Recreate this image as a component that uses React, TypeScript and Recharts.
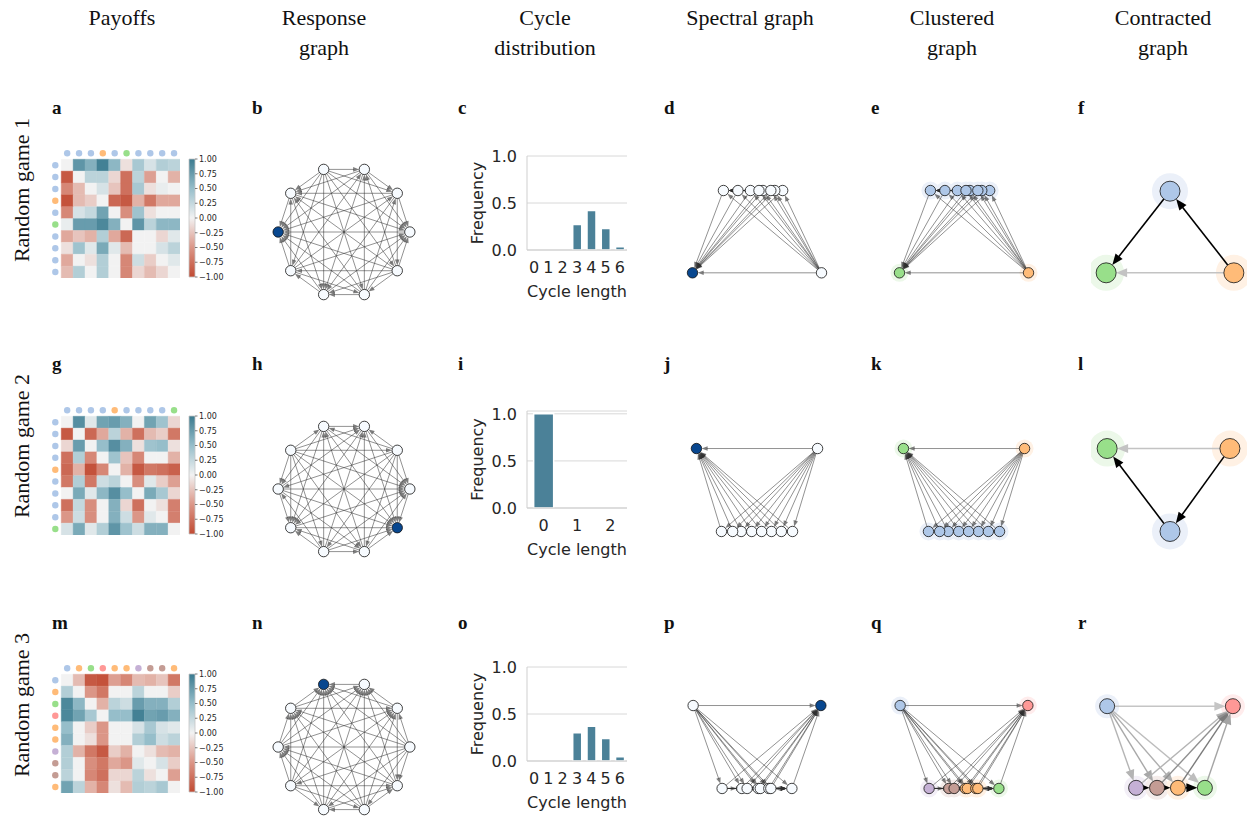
import React from 'react';
import {
  ScatterChart,
  Scatter,
  BarChart,
  Bar,
  ComposedChart,
  XAxis,
  YAxis,
  CartesianGrid,
  ReferenceLine,
  ReferenceArea,
} from 'recharts';

const SERIF = '"Liberation Serif", "DejaVu Serif", serif';
const SANS = '"DejaVu Sans", sans-serif';
const INK = '#262626';

// payoff matrices (rows top->bottom)
const payoff1 = [
  [0, 0.8, 0.6, 0.95, 0.55, -0.1, 0.4, 0.15, 0.35, 0.3],
  [-0.9, 0, 0.3, 0.3, -0.15, -0.75, 0.3, -0.45, 0, -0.35],
  [-0.6, -0.3, 0, 0.15, -0.25, -0.75, 0.4, -0.1, 0.05, 0],
  [-0.95, -0.3, -0.2, 0, -0.8, -0.9, -0.35, -0.7, -0.4, -0.4],
  [-0.6, 0.15, 0.25, 0.7, 0, -0.55, 0.45, -0.1, 0, 0],
  [0.05, 0.75, 0.75, 0.9, 0.6, 0, 0.8, 0.3, 0.55, 0.55],
  [-0.4, -0.25, -0.35, 0.35, -0.4, -0.8, 0, 0, -0.15, 0.1],
  [-0.1, 0.45, 0.1, 0.65, 0.1, -0.3, 0, 0, 0.15, 0.3],
  [-0.4, 0, -0.1, 0.35, 0, -0.6, 0.2, -0.2, 0, 0.1],
  [-0.3, 0.35, 0, 0.35, 0, -0.6, -0.15, -0.3, -0.15, 0],
];
const payoff2 = [
  [0, 0.85, 0.1, 0.7, 0.75, 0.6, 0, 0.7, 0.45, -0.15],
  [-0.9, 0, -0.8, -0.4, 0.3, -0.35, -0.75, -0.3, -0.2, -0.7],
  [-0.15, 0.75, 0, 0.5, 0.85, 0.6, -0.1, 0.45, 0.5, -0.1],
  [-0.75, 0.35, -0.6, 0, 0.45, -0.25, -0.6, 0, 0, -0.35],
  [-0.8, -0.35, -0.95, -0.6, 0, -0.35, -0.9, -0.7, -0.75, -0.85],
  [-0.7, 0.35, -0.7, 0.2, 0.3, 0, -0.55, 0.1, -0.2, -0.45],
  [0, 0.65, 0.1, 0.55, 0.85, 0.5, 0, 0.65, 0.4, -0.15],
  [-0.75, 0.25, -0.55, 0, 0.6, -0.15, -0.75, 0, -0.1, -0.65],
  [-0.5, 0.2, -0.55, 0, 0.6, 0.2, -0.5, 0.1, 0, -0.65],
  [0.15, 0.65, 0.1, 0.35, 0.8, 0.45, 0.2, 0.6, 0.6, 0],
];
const payoff3 = [
  [0, -0.3, -0.9, -0.95, -0.45, -0.6, -0.3, -0.35, -0.25, -0.7],
  [0.35, 0, -0.5, -0.7, 0, 0, 0.3, 0, 0, -0.2],
  [0.9, 0.55, 0, -0.35, 0.3, 0.2, 0.75, 0.6, 0.6, 0.35],
  [0.9, 0.7, 0.4, 0, 0.5, 0.5, 0.95, 0.7, 0.75, 0.6],
  [0.5, 0, -0.2, -0.5, 0, 0, 0.15, 0.4, 0.15, 0.1],
  [0.6, 0, -0.1, -0.5, 0, 0, 0.35, 0.5, 0.2, 0.3],
  [0.35, -0.35, -0.7, -0.9, -0.2, -0.35, 0, -0.1, -0.3, -0.35],
  [0.35, 0, -0.55, -0.7, -0.4, -0.5, 0.1, 0, 0.15, -0.2],
  [0.3, 0, -0.6, -0.75, -0.15, -0.15, 0.3, -0.1, 0, -0.45],
  [0.7, 0.3, -0.35, -0.6, -0.1, -0.3, 0.35, 0.3, 0.4, 0],
];

// cluster of each strategy
const cluster1 = ['blue', 'blue', 'blue', 'orange', 'blue', 'green', 'blue', 'blue', 'blue', 'blue'];
const cluster2 = ['blue', 'blue', 'blue', 'blue', 'orange', 'blue', 'blue', 'blue', 'blue', 'green'];
const cluster3 = ['blue', 'orange', 'green', 'red', 'orange', 'orange', 'purple', 'brown', 'brown', 'orange'];

// cycle length distributions
const cycleLen1 = ['0', '1', '2', '3', '4', '5', '6'];
const cycleFreq1 = [0, 0, 0, 0.27, 0.42, 0.23, 0.035];
const cycleLen2 = ['0', '1', '2'];
const cycleFreq2 = [1.0, 0, 0];
const cycleLen3 = ['0', '1', '2', '3', '4', '5', '6'];
const cycleFreq3 = [0, 0, 0, 0.3, 0.37, 0.24, 0.045];

const colorbarTicks = [-1, -0.75, -0.5, -0.25, 0, 0.25, 0.5, 0.75, 1];
const freqTicks = [0, 0.5, 1];

// circular layout (node k)
const ring = [
  [1, 0], [0.809, 0.588], [0.309, 0.951], [-0.309, 0.951], [-0.809, 0.588],
  [-1, 0], [-0.809, -0.588], [-0.309, -0.951], [0.309, -0.951], [0.809, -0.588],
];

// spectral layouts (node k)
const spectral1 = [
  [-0.51, 0.63], [0.39, 0.63], [-0.1, 0.63], [0.98, -0.62], [0.09, 0.63],
  [-0.98, -0.62], [0.27, 0.63], [-0.29, 0.63], [0.21, 0.63], [0.03, 0.63],
];
const spectral2 = [
  [-0.54, -0.63], [0.54, -0.63], [-0.24, -0.63], [-0.08, -0.63], [0.92, 0.63],
  [0.22, -0.63], [-0.37, -0.63], [0.37, -0.63], [0.07, -0.63], [-0.92, 0.63],
];
const spectral3 = [
  [-0.97, 0.63], [0.02, -0.63], [0.53, -0.63], [0.97, 0.63], [0.05, -0.63],
  [0.18, -0.63], [-0.53, -0.63], [-0.23, -0.63], [-0.15, -0.63], [0.21, -0.63],
];

// contracted graphs
const contracted1 = [
  { c: 'blue', x: 0, y: 0.62 },
  { c: 'green', x: -0.97, y: -0.62 },
  { c: 'orange', x: 0.97, y: -0.62 },
];
const contractedEdges1 = [
  ['orange', 'blue', 1],
  ['blue', 'green', 1],
  ['orange', 'green', 0.05],
];
const contracted2 = [
  { c: 'green', x: -0.955, y: 0.63 },
  { c: 'orange', x: 0.91, y: 0.63 },
  { c: 'blue', x: 0, y: -0.63 },
];
const contractedEdges2 = [
  ['orange', 'blue', 1],
  ['blue', 'green', 1],
  ['orange', 'green', 0.05],
];
const contracted3 = [
  { c: 'blue', x: -0.955, y: 0.62 },
  { c: 'red', x: 0.955, y: 0.62 },
  { c: 'purple', x: -0.515, y: -0.62 },
  { c: 'brown', x: -0.197, y: -0.62 },
  { c: 'orange', x: 0.121, y: -0.62 },
  { c: 'green', x: 0.53, y: -0.62 },
];
const contractedEdges3 = [
  ['blue', 'red', 0.04],
  ['blue', 'purple', 0.12],
  ['blue', 'brown', 0.18],
  ['blue', 'orange', 0.15],
  ['blue', 'green', 0.08],
  ['purple', 'red', 0.12],
  ['brown', 'red', 0.3],
  ['orange', 'red', 0.4],
  ['green', 'red', 0.2],
  ['purple', 'brown', 1],
  ['brown', 'orange', 1],
  ['orange', 'green', 1],
];

const palette: Record<string, string> = {
  blue: '#aec7e8', orange: '#ffbb78', green: '#98df8a',
  red: '#ff9896', purple: '#c5b0d5', brown: '#c49c94',
};
const haloPalette: Record<string, string> = {
  blue: '#ebf0f9', orange: '#fff1e4', green: '#ecf8e9',
  red: '#ffecec', purple: '#f3eff7', brown: '#f4ecea',
};

const cmapStops: [number, number[]][] = [
  [-1, [193, 74, 50]],
  [-0.5, [219, 150, 135]],
  [0, [242, 242, 242]],
  [0.5, [150, 190, 202]],
  [1, [58, 122, 143]],
];

function cmap(v: number) {
  for (let k = 0; k < cmapStops.length - 1; k++) {
    const [a, ca] = cmapStops[k];
    const [b, cb] = cmapStops[k + 1];
    if (v <= b || k === cmapStops.length - 2) {
      const t = Math.max(0, Math.min(1, (v - a) / (b - a)));
      const c = ca.map((x, i) => Math.round(x + (cb[i] - x) * t));
      return `rgb(${c[0]},${c[1]},${c[2]})`;
    }
  }
  return '#f2f2f2';
}

// edge from loser to winner
function beatEdges(A: number[][]) {
  const out: { from: number; to: number }[] = [];
  for (let i = 0; i < A.length; i++) {
    for (let j = i + 1; j < A.length; j++) {
      const d = A[i][j] - A[j][i];
      out.push(d >= 0 ? { from: j, to: i } : { from: i, to: j });
    }
  }
  return out;
}

function arrowShape(r: number, head: number, hw: number, color: string, opacity: number, width: number) {
  return (p: any) => {
    const { x1, y1, x2, y2 } = p;
    const dx = x2 - x1;
    const dy = y2 - y1;
    const L = Math.hypot(dx, dy) || 1;
    const ux = dx / L;
    const uy = dy / L;
    const sx = x1 + ux * r;
    const sy = y1 + uy * r;
    const tx = x2 - ux * r;
    const ty = y2 - uy * r;
    const bx = tx - ux * head;
    const by = ty - uy * head;
    const px = -uy * hw;
    const py = ux * hw;
    return (
      <g>
        <line x1={sx} y1={sy} x2={bx + ux} y2={by + uy} stroke={color} strokeOpacity={opacity} strokeWidth={width} />
        <polygon points={`${tx},${ty} ${bx + px},${by + py} ${bx - px},${by - py}`} fill={color} fillOpacity={opacity} />
      </g>
    );
  };
}

type GNode = { x: number; y: number; fill: string; halo?: string };
type GEdge = { from: number; to: number; color: string; opacity: number; width: number };

const G = 158;
const noMargin = { top: 0, right: 0, bottom: 0, left: 0 };

function GraphPanel({ cx, cy, nodes, edges, r, head, hw, haloR }: {
  cx: number; cy: number; nodes: GNode[]; edges: GEdge[]; r: number; head: number; hw: number; haloR?: number;
}) {
  return (
    <div style={{ position: 'absolute', left: cx - G / 2, top: cy - G / 2, width: G, height: G }}>
      {haloR ? (
        <div style={{ position: 'absolute', left: 0, top: 0 }}>
          <ScatterChart width={G} height={G} margin={noMargin}>
            <XAxis type="number" dataKey="x" domain={[-1.2, 1.2]} allowDataOverflow hide />
            <YAxis type="number" dataKey="y" domain={[-1.2, 1.2]} allowDataOverflow hide />
            <Scatter
              data={nodes}
              isAnimationActive={false}
              shape={(p: any) => <circle cx={p.cx} cy={p.cy} r={haloR} fill={p.payload.halo} />}
            />
          </ScatterChart>
        </div>
      ) : null}
      <div style={{ position: 'absolute', left: 0, top: 0 }}>
        <ScatterChart width={G} height={G} margin={noMargin}>
          <XAxis type="number" dataKey="x" domain={[-1.2, 1.2]} allowDataOverflow hide />
          <YAxis type="number" dataKey="y" domain={[-1.2, 1.2]} allowDataOverflow hide />
          {edges.map((e, i) => (
            <ReferenceLine
              key={'e' + i}
              segment={[
                { x: nodes[e.from].x, y: nodes[e.from].y },
                { x: nodes[e.to].x, y: nodes[e.to].y },
              ]}
              shape={arrowShape(r, head, hw, e.color, e.opacity, e.width)}
            />
          ))}
          <Scatter
            data={nodes}
            isAnimationActive={false}
            shape={(p: any) => (
              <circle cx={p.cx} cy={p.cy} r={r} fill={p.payload.fill} stroke="#111" strokeWidth={0.8} />
            )}
          />
        </ScatterChart>
      </div>
    </div>
  );
}

const WHITE_NODE = '#f7fbff';
const SINK_NODE = '#08478f';

function responseNodes(A: number[][], layout: number[][]) {
  const edges = beatEdges(A);
  return layout.map(([x, y], k) => ({
    x,
    y,
    fill: edges.some((e) => e.from === k) ? WHITE_NODE : SINK_NODE,
  }));
}

function clusteredNodes(clusters: string[], layout: number[][]) {
  return layout.map(([x, y], k) => ({ x, y, fill: palette[clusters[k]], halo: haloPalette[clusters[k]] }));
}

function grayEdges(A: number[][]): GEdge[] {
  return beatEdges(A).map((e) => ({ ...e, color: '#2e2e2e', opacity: 0.62, width: 0.85 }));
}

function contractedGraph(nodes: { c: string; x: number; y: number }[], edges: any[]) {
  const idx = (c: string) => nodes.findIndex((n) => n.c === c);
  const gn = nodes.map((n) => ({ x: n.x, y: n.y, fill: palette[n.c], halo: haloPalette[n.c] }));
  const ge = edges.map(([a, b, w]) => {
    const g = Math.round(205 * (1 - w));
    return { from: idx(a), to: idx(b), color: `rgb(${g},${g},${g})`, opacity: 1, width: w >= 1 ? 1.6 : 1.4 };
  });
  return { gn, ge };
}

function Heatmap({ left, cellTop, payoff, clusters }: { left: number; cellTop: number; payoff: number[][]; clusters: string[] }) {
  const S = 133;
  const cells: { i: number; j: number; v: number }[] = [];
  payoff.forEach((row, i) => row.forEach((v, j) => cells.push({ i, j, v })));
  const dots = [
    ...clusters.map((c, j) => ({ x: j + 0.5, y: -0.5, fill: palette[c] })),
    ...clusters.map((c, i) => ({ x: -0.5, y: i + 0.5, fill: palette[c] })),
  ];
  return (
    <>
      <div style={{ position: 'absolute', left: left - 14, top: cellTop - 14 }}>
        <ScatterChart width={S} height={S} margin={noMargin}>
          <XAxis type="number" dataKey="x" domain={[-1.2, 10]} allowDataOverflow hide />
          <YAxis type="number" dataKey="y" domain={[-1.2, 10]} allowDataOverflow reversed hide />
          {cells.map((c) => (
            <ReferenceArea
              key={`${c.i}-${c.j}`}
              x1={c.j}
              x2={c.j + 1}
              y1={c.i}
              y2={c.i + 1}
              fill={cmap(c.v)}
              fillOpacity={1}
              stroke={cmap(c.v)}
              strokeWidth={0.4}
            />
          ))}
          <Scatter
            data={dots}
            isAnimationActive={false}
            shape={(p: any) => <circle cx={p.cx} cy={p.cy} r={3.2} fill={p.payload.fill} />}
          />
        </ScatterChart>
      </div>
      <div style={{ position: 'absolute', left: left + 124, top: cellTop - 5 }}>
        <ComposedChart width={44} height={128} margin={{ top: 5, right: 0, bottom: 5, left: 4 }} data={[{ x: 0, y: 0 }]}>
          <XAxis type="number" dataKey="x" domain={[0, 1]} allowDataOverflow hide />
          <YAxis
            type="number"
            orientation="right"
            domain={[-1, 1]}
            allowDataOverflow
            ticks={colorbarTicks}
            interval={0}
            width={34}
            axisLine={false}
            tickSize={2.5}
            tickMargin={1.5}
            tickLine={{ stroke: INK, strokeWidth: 0.6 }}
            tick={{ fontSize: 8, fill: INK, fontFamily: SANS }}
            tickFormatter={(v: number) => (v < 0 ? '\u2212' : '') + Math.abs(v).toFixed(2)}
          />
          <ReferenceArea x1={0} x2={1} y1={-1} y2={1} fill="url(#cbarGrad)" fillOpacity={1} stroke="#c4c4c4" strokeWidth={0.8} />
        </ComposedChart>
      </div>
    </>
  );
}

const xLabel = (p: any) => {
  const vb = p.viewBox || {};
  return (
    <text x={vb.x + vb.width / 2} y={vb.y + 41} textAnchor="middle" dominantBaseline="central" fontSize={16} fill={INK} fontFamily={SANS}>
      Cycle length
    </text>
  );
};

const yLabel = (p: any) => {
  const vb = p.viewBox || {};
  const cx = vb.x + 22;
  const cy = vb.y + vb.height / 2;
  return (
    <text x={cx} y={cy} transform={`rotate(-90 ${cx} ${cy})`} textAnchor="middle" dominantBaseline="central" fontSize={16} fill={INK} fontFamily={SANS}>
      Frequency
    </text>
  );
};

function CycleChart({ left, plotTop, cats, freq, ymax, plotH }: {
  left: number; plotTop: number; cats: string[]; freq: number[]; ymax: number; plotH: number;
}) {
  const data = cats.map((c, i) => ({ len: c, freq: freq[i] }));
  const tickStyle = { fontSize: 16, fill: INK, fontFamily: SANS };
  return (
    <div style={{ position: 'absolute', left, top: plotTop - 10 }}>
      <BarChart width={180} height={10 + plotH + 56} data={data} margin={{ top: 10, right: 8, bottom: 0, left: 0 }} barCategoryGap="20%">
        <CartesianGrid vertical={false} stroke="#d8d8d8" />
        <XAxis
          dataKey="len"
          interval={0}
          tickLine={false}
          tickSize={0}
          tickMargin={12}
          axisLine={{ stroke: '#cfcfcf' }}
          tick={tickStyle}
          height={56}
          label={xLabel}
        />
        <XAxis xAxisId="top" orientation="top" dataKey="len" tick={false} tickLine={false} axisLine={{ stroke: '#cfcfcf' }} height={0} />
        <YAxis
          domain={[0, ymax]}
          allowDataOverflow
          ticks={freqTicks}
          interval={0}
          width={72}
          tickLine={false}
          tickSize={0}
          tickMargin={10}
          axisLine={{ stroke: '#cfcfcf' }}
          tick={tickStyle}
          tickFormatter={(v: number) => v.toFixed(1)}
          label={yLabel}
        />
        <YAxis yAxisId="right" orientation="right" domain={[0, ymax]} width={0} tick={false} tickLine={false} axisLine={{ stroke: '#cfcfcf' }} />
        <Bar dataKey="freq" fill="#4b8198" stroke="#ffffff" strokeWidth={1.5} isAnimationActive={false} />
      </BarChart>
    </div>
  );
}

const headers = [
  { cx: 122, lines: ['Payoffs'] },
  { cx: 324, lines: ['Response', 'graph'] },
  { cx: 545, lines: ['Cycle', 'distribution'] },
  { cx: 750, lines: ['Spectral graph'] },
  { cx: 952, lines: ['Clustered', 'graph'] },
  { cx: 1163, lines: ['Contracted', 'graph'] },
];
const letterX = [52, 252, 458, 664, 871, 1078];
const letters = [
  ['a', 'b', 'c', 'd', 'e', 'f'],
  ['g', 'h', 'i', 'j', 'k', 'l'],
  ['m', 'n', 'o', 'p', 'q', 'r'],
];
const rowLabels = ['Random game 1', 'Random game 2', 'Random game 3'];
const rowShift = [0, 256, 515];

export default function App() {
  const games = [
    { payoff: payoff1, clusters: cluster1, spectral: spectral1, cont: contracted1, contEdges: contractedEdges1, contR: 10, contHalo: 18, cats: cycleLen1, freq: cycleFreq1, ymax: 1, plotH: 94, plotTop: 156 },
    { payoff: payoff2, clusters: cluster2, spectral: spectral2, cont: contracted2, contEdges: contractedEdges2, contR: 10, contHalo: 18, cats: cycleLen2, freq: cycleFreq2, ymax: 1.03, plotH: 97, plotTop: 411 },
    { payoff: payoff3, clusters: cluster3, spectral: spectral3, cont: contracted3, contEdges: contractedEdges3, contR: 7.5, contHalo: 12, cats: cycleLen3, freq: cycleFreq3, ymax: 1, plotH: 94, plotTop: 667 },
  ];
  const centerY = [232, 489.5, 746.5];
  const ringY = [232, 489, 747];
  const cellTops = [159, 416, 674];

  return (
    <div style={{ position: 'absolute', left: 0, top: 0, width: 1247, height: 816, background: '#fff', fontFamily: SANS, overflow: 'hidden' }}>
      <svg width={0} height={0} style={{ position: 'absolute' }}>
        <defs>
          <linearGradient id="cbarGrad" x1="0" y1="0" x2="0" y2="1">
            {cmapStops
              .slice()
              .reverse()
              .map(([v, c], i) => (
                <stop key={i} offset={`${((1 - v) / 2) * 100}%`} stopColor={`rgb(${c[0]},${c[1]},${c[2]})`} />
              ))}
          </linearGradient>
        </defs>
      </svg>

      {headers.map((h) => (
        <div
          key={h.cx}
          style={{ position: 'absolute', left: h.cx - 110, top: 3, width: 220, textAlign: 'center', fontFamily: SERIF, fontSize: 22, lineHeight: '30px', color: '#111' }}
        >
          {h.lines.map((l) => (
            <div key={l}>{l}</div>
          ))}
        </div>
      ))}

      {rowLabels.map((t, r) => (
        <div
          key={t}
          style={{
            position: 'absolute', left: 22 - 100, top: 190 + rowShift[r] - 15, width: 200, height: 30,
            lineHeight: '30px', textAlign: 'center', fontFamily: SERIF, fontSize: 22, color: '#111',
            transform: 'rotate(-90deg)',
          }}
        >
          {t}
        </div>
      ))}

      {letters.map((row, r) =>
        row.map((l, c) => (
          <div
            key={l}
            style={{ position: 'absolute', left: letterX[c], top: 97 + rowShift[r], fontFamily: SERIF, fontWeight: 'bold', fontSize: 19, lineHeight: '22px', color: '#111' }}
          >
            {l}
          </div>
        )),
      )}

      {games.map((g, r) => {
        const edges = grayEdges(g.payoff);
        const { gn, ge } = contractedGraph(g.cont, g.contEdges);
        return (
          <React.Fragment key={r}>
            <Heatmap left={61} cellTop={cellTops[r]} payoff={g.payoff} clusters={g.clusters} />
            <GraphPanel cx={344} cy={ringY[r]} nodes={responseNodes(g.payoff, ring)} edges={edges} r={5.2} head={6} hw={2.3} />
            <CycleChart left={455} plotTop={g.plotTop} cats={g.cats} freq={g.freq} ymax={g.ymax} plotH={g.plotH} />
            <GraphPanel cx={757} cy={centerY[r]} nodes={responseNodes(g.payoff, g.spectral)} edges={edges} r={5.2} head={6} hw={2.3} />
            <GraphPanel cx={964} cy={centerY[r]} nodes={clusteredNodes(g.clusters, g.spectral)} edges={edges} r={5.2} head={6} hw={2.3} haloR={9} />
            <GraphPanel cx={1170} cy={centerY[r]} nodes={gn} edges={ge} r={g.contR} head={11} hw={4.5} haloR={g.contHalo} />
          </React.Fragment>
        );
      })}
    </div>
  );
}
